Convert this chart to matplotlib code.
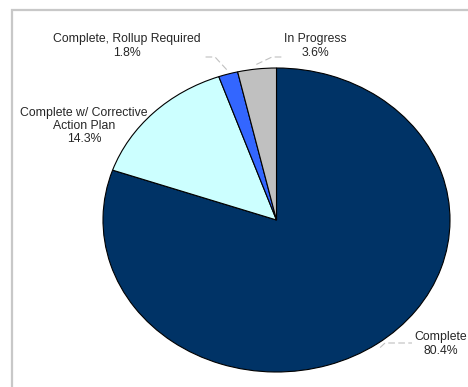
import numpy as np
import matplotlib
matplotlib.use("Agg")
import matplotlib.pyplot as plt
from matplotlib.patches import Rectangle

# status breakdown, drawn clockwise from 12 o'clock
labels = ["Complete", "Complete w/ Corrective\nAction Plan",
          "Complete, Rollup Required", "In Progress"]
shares = [80.4, 14.3, 1.8, 3.6]
colors = ["#003366", "#CCFFFF", "#3366FF", "#C0C0C0"]

W, H = 468, 387

# label centres and leader bend/end points, in pixels from the top-left
label_px = [(441, 344), (84, 126), (127, 46), (315, 46)]
leader_px = [[(385, 343), (412, 343)], None,
             [(215, 57), (205, 57)], [(272, 57), (282, 57)]]


def px(x, y):
    return x / W, 1 - y / H


plt.rcParams["font.family"] = ["Liberation Sans", "DejaVu Sans"]

fig = plt.figure(figsize=(W / 100, H / 100), dpi=100)
fig.patches.append(Rectangle((12 / W, -0.1), 1.2, 1.1 - 10 / H, transform=fig.transFigure,
                             fill=False, edgecolor="#C8C8C8", linewidth=1.6))

# pie area stretched to an ellipse like the original sheet
ax = fig.add_axes([103 / W, 15 / H, 347 / W, 304 / H])
wedges, _ = ax.pie(shares, colors=colors, startangle=90, counterclock=False,
                   wedgeprops=dict(edgecolor="black", linewidth=0.8))
ax.set_aspect("auto")
ax.set_xlim(-1, 1)
ax.set_ylim(-1, 1)
ax.axis("off")

to_fig = ax.transAxes + fig.transFigure.inverted()

for w, name, val, pos, leader in zip(wedges, labels, shares, label_px, leader_px):
    fig.text(*px(*pos), f"{name}\n{val}%", ha="center", va="center",
             fontsize=8.8, color="#262626", linespacing=1.15)
    if leader is None:
        continue
    mid = np.deg2rad((w.theta1 + w.theta2) / 2)
    tip = to_fig.transform((0.5 + 0.515 * np.cos(mid), 0.5 + 0.515 * np.sin(mid)))
    pts = [tuple(tip)] + [px(*p) for p in leader]
    xs, ys = zip(*pts)
    fig.add_artist(plt.Line2D(xs, ys, transform=fig.transFigure, color="#C0C0C0",
                              linewidth=0.8, linestyle=(0, (6, 3))))

fig.savefig("out.png", dpi=100)
